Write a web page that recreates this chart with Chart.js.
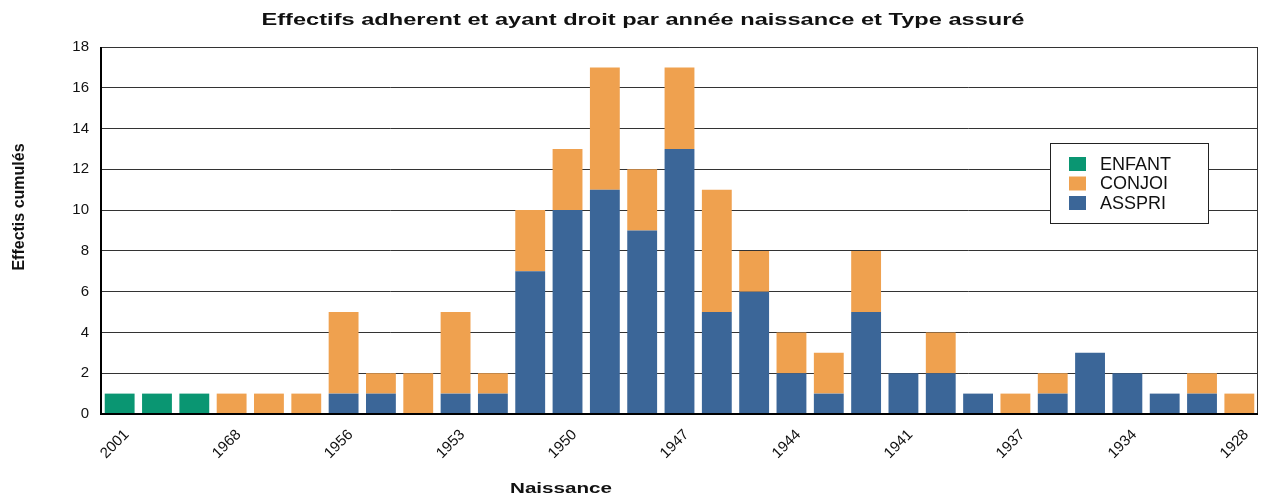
<!DOCTYPE html>
<html>
<head>
<meta charset="utf-8">
<script src="https://cdn.jsdelivr.net/npm/chart.js@4/dist/chart.umd.min.js"></script>
<style>
  html, body { margin:0; padding:0; background:#fff; }
  #wrap { width:1267px; height:496px; }
</style>
</head>
<body>
<div id="wrap"><canvas id="c" width="1267" height="496"></canvas></div>
<script>
// années de naissance (une étiquette sur trois est affichée)
const ANNEES = ["2001","2000","1999","1968","1962","1958","1956","1955","1954","1953","1952","1951",
  "1950","1949","1948","1947","1946","1945","1944","1943","1942","1941","1940","1938",
  "1937","1936","1935","1934","1932","1930","1928"];

// effectifs par type assuré
const ASSPRI = [0,0,0,0,0,0,1,1,0,1,1,7,10,11,9,13,5,6,2,1,5,2,2,1,0,1,3,2,1,1,0];
const CONJOI = [0,0,0,1,1,1,4,1,2,4,1,3,3,6,3,4,6,2,2,2,3,0,2,0,1,1,0,0,0,1,1];
const ENFANT = [1,1,1,0,0,0,0,0,0,0,0,0,0,0,0,0,0,0,0,0,0,0,0,0,0,0,0,0,0,0,0];

const Y_TICKS = [0,2,4,6,8,10,12,14,16,18];

const TITRE = 'Effectifs adherent et ayant droit par année naissance et Type assuré';
const TITRE_X = 'Naissance';
const TITRE_Y = 'Effectis cumulés';

const FONT = "'Liberation Sans', Arial, sans-serif";
Chart.defaults.font.family = FONT;
Chart.defaults.color = '#111';

// texte étiré horizontalement jusqu'à une largeur donnée
function texteEtire(ctx, txt, cx, y, largeur) {
  const w = ctx.measureText(txt).width;
  const k = largeur / w;
  ctx.save();
  ctx.translate(cx, y);
  ctx.scale(k, 1);
  ctx.textAlign = 'center';
  ctx.fillText(txt, 0, 0);
  ctx.restore();
}

// titres dessinés à la main
const titres = {
  id: 'titres',
  afterDraw(chart) {
    const {ctx} = chart;
    ctx.save();
    ctx.fillStyle = '#111';
    ctx.textBaseline = 'alphabetic';
    ctx.font = 'bold 17px ' + FONT;
    texteEtire(ctx, TITRE, 643, 25, 763);
    ctx.font = 'bold 14px ' + FONT;
    texteEtire(ctx, TITRE_X, 561, 493, 102);
    ctx.font = 'bold 16px ' + FONT;
    ctx.translate(24, 207);
    ctx.rotate(-Math.PI / 2);
    ctx.textAlign = 'center';
    ctx.fillText(TITRE_Y, 0, 0);
    ctx.restore();
  }
};

// cadre fin en haut et à droite, axes noirs épais
const cadre = {
  id: 'cadre',
  afterDraw(chart) {
    const {ctx, chartArea: a} = chart;
    ctx.save();
    ctx.strokeStyle = '#333';
    ctx.lineWidth = 1;
    ctx.beginPath();
    ctx.moveTo(a.left, a.top + 0.5);
    ctx.lineTo(a.right - 0.5, a.top + 0.5);
    ctx.lineTo(a.right - 0.5, a.bottom);
    ctx.stroke();
    ctx.strokeStyle = '#000';
    ctx.lineWidth = 2;
    ctx.beginPath();
    ctx.moveTo(a.left, a.top);
    ctx.lineTo(a.left, a.bottom);
    ctx.lineTo(a.right, a.bottom);
    ctx.stroke();
    ctx.restore();
  }
};

// légende encadrée dans la zone du graphique
const legende = {
  id: 'legende',
  afterDraw(chart) {
    const {ctx, chartArea: a} = chart;
    const x = a.right - 208, y = a.top + 96, w = 158, h = 80;
    ctx.save();
    ctx.fillStyle = '#fff';
    ctx.fillRect(x, y, w, h);
    ctx.strokeStyle = '#222';
    ctx.lineWidth = 1;
    ctx.strokeRect(x + 0.5, y + 0.5, w, h);
    const ds = chart.data.datasets.slice().reverse();
    ctx.font = '18px ' + FONT;
    ctx.textBaseline = 'middle';
    ds.forEach((d, i) => {
      const yy = y + 21 + i * 19.5;
      ctx.fillStyle = d.backgroundColor;
      ctx.fillRect(x + 19, yy - 7, 17, 14);
      ctx.fillStyle = '#111';
      ctx.fillText(d.label, x + 50, yy + 1);
    });
    ctx.restore();
  }
};

new Chart(document.getElementById('c'), {
  type: 'bar',
  data: {
    labels: ANNEES,
    datasets: [
      { label: 'ASSPRI', data: ASSPRI, backgroundColor: '#3b6698' },
      { label: 'CONJOI', data: CONJOI, backgroundColor: '#efa14f' },
      { label: 'ENFANT', data: ENFANT, backgroundColor: '#0a9672' }
    ]
  },
  options: {
    responsive: false,
    animation: false,
    layout: { padding: { left: 0, right: 9, top: 47, bottom: 0 } },
    datasets: { bar: { categoryPercentage: 1, barPercentage: 0.8 } },
    plugins: {
      legend: { display: false },
      tooltip: { enabled: false },
      title: { display: false }
    },
    scales: {
      x: {
        stacked: true,
        grid: { display: false, drawTicks: false },
        border: { display: false },
        ticks: {
          autoSkip: false,
          maxRotation: 45, minRotation: 45,
          padding: 12,
          labelOffset: 7,
          font: { size: 15 },
          color: '#111',
          callback: function(v, i) { return i % 3 === 0 ? this.getLabelForValue(v) : ''; }
        },
        afterFit(s) { s.height = 82; }
      },
      y: {
        stacked: true,
        min: 0, max: 18,
        afterBuildTicks(s) { s.ticks = Y_TICKS.map(v => ({ value: v })); },
        grid: { color: '#333', lineWidth: 1, drawTicks: false },
        border: { display: false },
        ticks: { padding: 12, font: { size: 15 }, color: '#111' },
        afterFit(s) { s.width = 101; }
      }
    }
  },
  plugins: [cadre, legende, titres]
});
</script>
</body>
</html>
